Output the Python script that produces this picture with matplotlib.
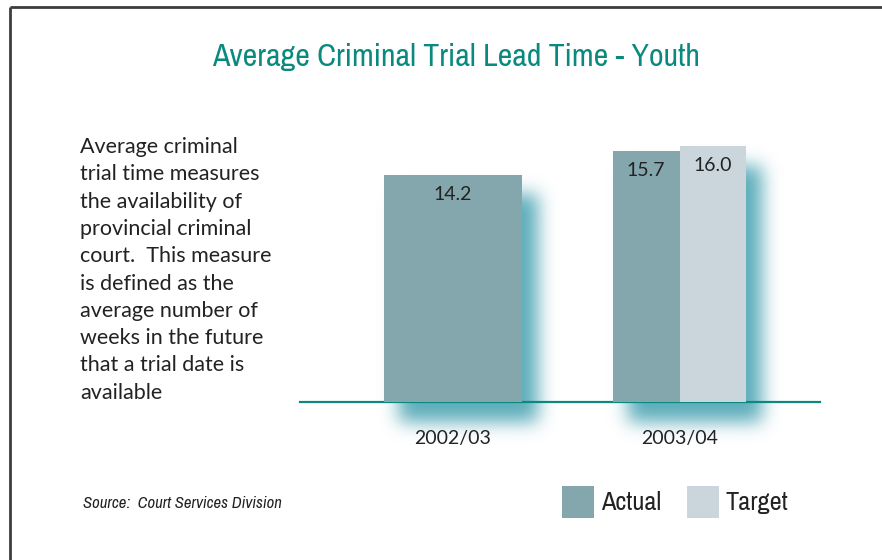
import numpy as np
import matplotlib
matplotlib.use("Agg")
import matplotlib.pyplot as plt
from matplotlib import font_manager
from matplotlib.patches import Rectangle

# ── Data ───────────────────────────────────────────────────
years   = ["2002/03", "2003/04"]
actual  = [14.2, 15.7]
target  = [None, 16.0]
note_lines = ["Average criminal", "trial time measures", "the availability of",
              "provincial criminal", "court.  This measure", "is defined as the",
              "average number of", "weeks in the future", "that a trial date is",
              "available"]

ACTUAL_COLOR = "#84a6ad"; TARGET_COLOR = "#cad6dc"
TEAL = "#0a8a7e"; GLOW = np.array([0.33, 0.66, 0.72])
TEXT = "#222222"

names = sorted({f.name for f in font_manager.fontManager.ttflist})
narrow = [n for n in names if ("Narrow" in n or "Condensed" in n) and "Mono" not in n and "Serif" not in n]
NARROW = narrow[0] if narrow else "Liberation Sans"
BODY = "Lato" if "Lato" in names else "DejaVu Sans"
k_narrow = 1.0 if narrow else 0.85

W, H = 882, 560
fig = plt.figure(figsize=(W / 100, H / 100), dpi=100)
fig.patch.set_facecolor("white")

# background layer in pixel coordinates for frame, glow and notes
bg = fig.add_axes([0, 0, 1, 1], zorder=0)
bg.set_xlim(0, W); bg.set_ylim(H, 0); bg.axis("off")

ax = fig.add_axes([300 / W, (H - 402) / H, 520 / W, 264 / H], zorder=1)
ax.patch.set_alpha(0)
ax.set_xlim(-0.675, 1.62)
ax.set_ylim(0, 16.5)

# ── Bars ───────────────────────────────────────────────────
bars = []
bars += list(ax.bar(0, actual[0], width=0.61, color=ACTUAL_COLOR, edgecolor="none", zorder=3))
bars += list(ax.bar(1 - 0.147, actual[1], width=0.294, color=ACTUAL_COLOR, edgecolor="none", zorder=3))
bars += list(ax.bar(1 + 0.147, target[1], width=0.294, color=TARGET_COLOR, edgecolor="none", zorder=3))

labels = [f"{actual[0]:.1f}", f"{actual[1]:.1f}", f"{target[1]:.1f}"]
for bar, lab in zip(bars, labels):
    ax.annotate(lab, (bar.get_x() + bar.get_width() / 2, bar.get_height()),
                xytext=(0, -8), textcoords="offset points", ha="center", va="top",
                fontsize=14, color=TEXT, family=BODY, zorder=4)

ax.set_xticks([0, 1])
ax.set_xticklabels(years, fontsize=14, color=TEXT, family=BODY)
ax.tick_params(axis="x", length=0, pad=20)
ax.set_yticks([])
for s in ["left", "right", "top"]:
    ax.spines[s].set_visible(False)
ax.spines["bottom"].set_color(TEAL)
ax.spines["bottom"].set_linewidth(1.6)

# ── Soft glow behind the bars ──────────────────────────────
fig.canvas.draw()
mask = np.zeros((H, W))
dx, dy = 16, 20
for bar in bars:
    bb = bar.get_window_extent()
    x0, x1 = int(bb.x0) + dx, int(bb.x1) + dx
    y0, y1 = int(H - bb.y1) + dy, int(H - bb.y0) + dy
    mask[max(y0, 0):min(y1, H), max(x0, 0):min(x1, W)] = 1.0

sigma = 9
k = np.arange(-3 * sigma, 3 * sigma + 1)
kern = np.exp(-k**2 / (2 * sigma**2)); kern /= kern.sum()
blur = np.apply_along_axis(lambda r: np.convolve(r, kern, mode="same"), 1, mask)
blur = np.apply_along_axis(lambda c: np.convolve(c, kern, mode="same"), 0, blur)
rgba = np.zeros((H, W, 4))
rgba[..., :3] = GLOW
rgba[..., 3] = np.clip(blur * 0.95, 0, 1)
bg.imshow(rgba, extent=(0, W, H, 0), interpolation="bilinear", zorder=1)

# ── Frame, title, notes ────────────────────────────────────
bg.plot([10, 10], [7, H], color="#3d3d3d", lw=2, solid_capstyle="butt", zorder=2)
bg.plot([10, W], [7, 7], color="#3d3d3d", lw=2, solid_capstyle="butt", zorder=2)

bg.text(456, 57, "Average Criminal Trial Lead Time - Youth", ha="center", va="center",
        fontsize=23 * k_narrow, color=TEAL, family=NARROW)

for i, line in enumerate(note_lines):
    bg.text(80, 153 + 27.3 * i, line, ha="left", va="baseline",
            fontsize=15.5, color=TEXT, family=BODY)

bg.text(83, 504, "Source:  Court Services Division", ha="left", va="center",
        fontsize=12 * k_narrow, style="italic", color=TEXT, family=NARROW)

# legend
for x, lab, col in [(562, "Actual", ACTUAL_COLOR), (687, "Target", TARGET_COLOR)]:
    bg.add_patch(Rectangle((x, 486), 32, 32, facecolor=col, edgecolor="none", zorder=2))
    bg.text(x + 39, 503, lab, ha="left", va="center", fontsize=19 * k_narrow, color=TEXT,
            family=NARROW)

fig.savefig("out.png", dpi=100, facecolor="white")
